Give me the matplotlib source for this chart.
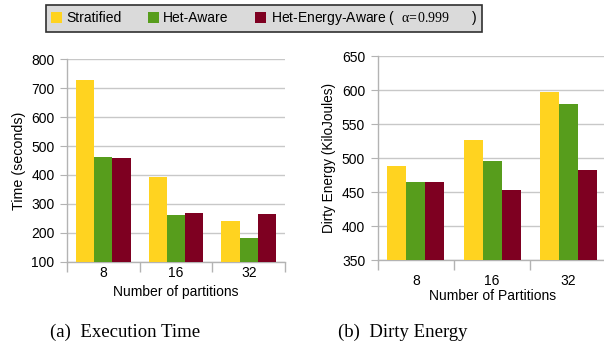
import matplotlib.pyplot as plt
import numpy as np
from matplotlib.patches import Patch

partitions = ["8", "16", "32"]
series_names = ["Stratified", "Het-Aware", "Het-Energy-Aware"]
colors = ["#ffd320", "#579d1c", "#7e0021"]

# execution time in seconds
time_stratified = [728, 393, 241]
time_het = [462, 262, 182]
time_het_energy = [459, 268, 265]

# dirty energy in kilojoules
energy_stratified = [488, 526, 597]
energy_het = [465, 495, 579]
energy_het_energy = [465, 453, 483]

plt.rcParams["font.family"] = ["Liberation Sans", "DejaVu Sans"]
plt.rcParams["mathtext.fontset"] = "custom"
plt.rcParams["mathtext.rm"] = "Liberation Serif"
plt.rcParams["mathtext.it"] = "Liberation Serif"

fig = plt.figure(figsize=(6.04, 3.54), dpi=100)
ax1 = fig.add_axes([0.111, 0.2607, 0.361, 0.5718])
ax2 = fig.add_axes([0.6253, 0.2655, 0.379, 0.5763])

gray = "#b3b3b3"


def draw_panel(ax, values, ylim, yticks, ylabel, xlabel, ylabel_size, xpad, xlabelpad):
    x = np.arange(len(partitions))
    width = 0.25
    for i, (vals, c) in enumerate(zip(values, colors)):
        ax.bar(x + (i - 1) * width, vals, width, color=c, zorder=3)
    ax.set_xlim(-0.5, len(partitions) - 0.5)
    ax.set_ylim(*ylim)
    ax.set_yticks(yticks)
    ax.set_xticks(x)
    ax.set_xticklabels(partitions)
    ax.set_xticks(np.arange(len(partitions) + 1) - 0.5, minor=True)
    ax.tick_params(axis="x", which="major", length=0, pad=xpad, labelsize=10)
    ax.tick_params(axis="x", which="minor", length=7, color=gray, width=1)
    ax.tick_params(axis="y", length=5, color=gray, labelsize=10, pad=4)
    ax.yaxis.grid(True, color="#c8c8c8", linewidth=1, zorder=0)
    for s in ["top", "right"]:
        ax.spines[s].set_visible(False)
    for s in ["left", "bottom"]:
        ax.spines[s].set_color(gray)
        ax.spines[s].set_linewidth(1)
    ax.set_ylabel(ylabel, fontsize=ylabel_size, labelpad=4)
    ax.set_xlabel(xlabel, fontsize=10, labelpad=xlabelpad)


draw_panel(ax1, [time_stratified, time_het, time_het_energy], (100, 800),
           range(100, 801, 100), "Time (seconds)", "Number of partitions", 10.3, 3, 4)
draw_panel(ax2, [energy_stratified, energy_het, energy_het_energy], (350, 650),
           range(350, 651, 50), "Dirty Energy (KiloJoules)", "Number of Partitions", 9.8, 10, 1)

handles = [Patch(facecolor=c, edgecolor="none") for c in colors]
labels = ["Stratified", "Het-Aware", r"Het-Energy-Aware (  $\alpha\!=\!0.999$      )"]
leg = fig.legend(handles, labels, loc="center", bbox_to_anchor=(0.437, 0.948),
                 ncol=3, fontsize=10, frameon=True, fancybox=False,
                 handlelength=0.8, handleheight=0.8, handletextpad=0.3,
                 columnspacing=1.9, borderpad=0.35, borderaxespad=0,
                 framealpha=1)
leg.get_frame().set_facecolor("#dadada")
leg.get_frame().set_edgecolor("#303030")
leg.get_frame().set_linewidth(1.2)

fig.text(0.207, 0.062, "(a)  Execution Time", ha="center", va="center",
         family="Liberation Serif", fontsize=13.5)
fig.text(0.666, 0.062, "(b)  Dirty Energy", ha="center", va="center",
         family="Liberation Serif", fontsize=13.5)

fig.savefig("out.png", dpi=100)
